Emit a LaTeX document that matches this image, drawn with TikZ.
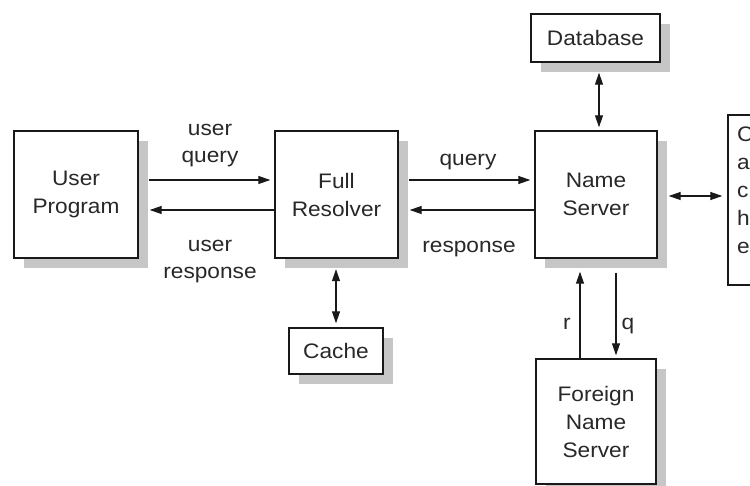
\documentclass[tikz,border=0pt]{standalone}
\usepackage{fontspec}
\setmainfont{Liberation Sans}[FakeStretch=1.08]
\usetikzlibrary{arrows.meta,shadows,calc}
\definecolor{shade}{RGB}{198,198,198}
\definecolor{ink}{RGB}{40,40,40}

\begin{document}
\begin{tikzpicture}[x=1pt,y=-1pt,
  txt/.style={font=\fontsize{21}{28}\selectfont, text=ink},
  box/.style={txt, draw=black!90, line width=1.4pt, fill=white, inner sep=0pt,
    align=center,
    drop shadow={shadow xshift=10pt, shadow yshift=-10pt, fill=shade, opacity=1}},
  plainbox/.style={draw=black!90, line width=1.4pt, fill=white, inner sep=0pt},
  lbl/.style={txt, anchor=base, inner sep=0pt},
  tip/.tip={Triangle[length=12pt,width=8pt]},
  arr/.style={line width=1.2pt, draw=black!90, -tip},
  darr/.style={line width=1.2pt, draw=black!90, tip-tip}]

% page frame
\useasboundingbox (0,0) rectangle (750,486);
\clip (0,0) rectangle (750,486);
\fill[white] (0,0) rectangle (750,486);

% components
\node[box, minimum width=124pt, minimum height=127pt] (user) at (76,194.5) {User\\Program};
\node[box, minimum width=123pt, minimum height=127pt] (full) at (336.5,194.5) {Full\\Resolver};
\node[box, minimum width=122pt, minimum height=127pt] (ns) at (596,194.5) {Name\\Server};
\node[box, minimum width=129pt, minimum height=48pt] (db) at (595.5,38) {Database};
\node[box, minimum width=94pt, minimum height=46pt] (cache) at (336,351) {Cache};
\node[box, minimum width=120pt, minimum height=125pt] (foreign) at (596,421.5) {Foreign\\Name\\Server};

% box on the right edge
\node[plainbox, minimum width=100pt, minimum height=170pt] (other) at (778,200) {};
\node[txt, anchor=north west, align=left, inner sep=0pt] (othertext) at (737,127) {C\\a\\c\\h\\e};

% user program <-> full resolver
\draw[arr] ($(user.east)+(10,-14.5)$) -- ($(full.west)+(-4,-14.5)$);
\draw[arr] ($(full.west)+(0,15.5)$) -- ($(user.east)+(11,15.5)$);
\node[lbl] (uq1) at (210,136) {user};
\node[lbl] (uq2) at (210,163) {query};
\node[lbl] (ur1) at (210,252) {user};
\node[lbl] (ur2) at (210,279) {response};

% full resolver <-> name server
\draw[arr] ($(full.east)+(10,-14.5)$) -- ($(ns.west)+(-4,-14.5)$);
\draw[arr] ($(ns.west)+(0,15.5)$) -- ($(full.east)+(11,15.5)$);
\node[lbl] (q1) at (468,166) {query};
\node[lbl] (r1) at (469,253) {response};

% database, cache, right box
\draw[darr] ($(db.south)+(3.5,10)$) -- ($(ns.north)+(3,-3)$);
\draw[darr] ($(full.south)+(-0.5,10.5)$) -- ($(cache.north)+(0,-4)$);
\draw[darr] ($(ns.east)+(11,1.5)$) -- ($(other.west)+(-5,-4)$);

% name server <-> foreign name server
\draw[arr] ($(foreign.north)+(-16,0)$) -- ($(ns.south)+(-16,13)$);
\draw[arr] ($(ns.south)+(20,14)$) -- ($(foreign.north)+(20,-3)$);
\node[lbl] (rl) at (567,330) {r};
\node[lbl] (ql) at (628,330) {q};
\end{tikzpicture}
\end{document}
